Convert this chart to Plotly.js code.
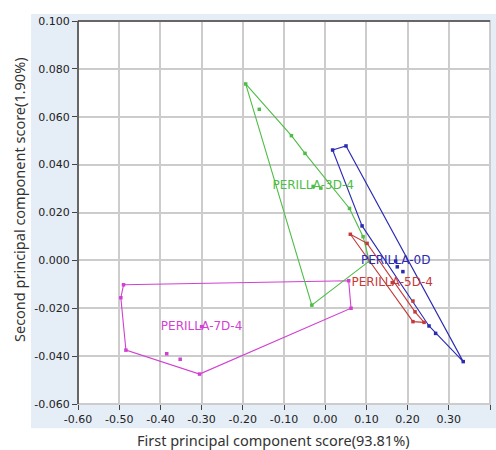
<!DOCTYPE html>
<html>
<head>
<meta charset="utf-8">
<script src="https://cdn.plot.ly/plotly-3.0.1.min.js"></script>
<style>html,body{margin:0;padding:0;background:#fff;}#chart{width:496px;height:450px;}</style>
</head>
<body>
<div id="chart"></div>
<script>
// ---- data ----
const groupNames = ["PERILLA-0D", "PERILLA-3D-4", "PERILLA-5D-4", "PERILLA-7D-4"];
const groupColors = ["#2a2ab4", "#4cbd45", "#c43a3a", "#d23fd2"];

// hull outlines (closed polygons)
const hull0D_x = [0.018, 0.0505, 0.335, 0.268, 0.252, 0.0895, 0.018];
const hull0D_y = [0.0461, 0.0478, -0.0423, -0.0305, -0.0274, 0.0144, 0.0461];
const hull3D_x = [-0.193, -0.082, -0.049, 0.059, 0.092, 0.107, -0.0325, -0.193];
const hull3D_y = [0.0737, 0.0521, 0.0447, 0.0217, 0.0099, -0.0003, -0.0187, 0.0737];
const hull5D_x = [0.061, 0.1017, 0.218, 0.24, 0.213, 0.061];
const hull5D_y = [0.0109, 0.0071, -0.0215, -0.0259, -0.0256, 0.0109];
const hull7D_x = [-0.4895, 0.057, 0.0627, -0.305, -0.4837, -0.496, -0.4895];
const hull7D_y = [-0.0102, -0.0085, -0.0200, -0.0475, -0.0375, -0.0156, -0.0102];

// sample points
const pts0D_x = [0.018, 0.0505, 0.335, 0.268, 0.252, 0.0895, 0.175, 0.1886];
const pts0D_y = [0.0461, 0.0478, -0.0423, -0.0305, -0.0274, 0.0144, -0.0027, -0.0047];
const pts3D_x = [-0.193, -0.160, -0.082, -0.049, -0.0105, 0.059, 0.092, 0.107, -0.0325];
const pts3D_y = [0.0737, 0.0631, 0.0521, 0.0447, 0.0302, 0.0217, 0.0099, -0.0003, -0.0187];
const pts5D_x = [0.061, 0.1017, 0.213, 0.218, 0.24, 0.213];
const pts5D_y = [0.0109, 0.0071, -0.0170, -0.0215, -0.0259, -0.0256];
const pts7D_x = [-0.4895, 0.057, 0.0627, -0.305, -0.4837, -0.496, -0.3846, -0.352];
const pts7D_y = [-0.0102, -0.0085, -0.0200, -0.0475, -0.0375, -0.0156, -0.0390, -0.0413];

// group centroids (labels)
const centroidX = [0.171, -0.0293, 0.1627, -0.300];
const centroidY = [-0.0003, 0.0309, -0.0093, -0.0277];

const xTicks = [-0.60, -0.50, -0.40, -0.30, -0.20, -0.10, 0.00, 0.10, 0.20, 0.30, 0.40];
const yTicks = [-0.060, -0.040, -0.020, 0.000, 0.020, 0.040, 0.060, 0.080, 0.100];
const xTitle = "First principal component score(93.81%)";
const yTitle = "Second principal component score(1.90%)";

// ---- traces ----
const hulls = [[hull0D_x, hull0D_y], [hull3D_x, hull3D_y], [hull5D_x, hull5D_y], [hull7D_x, hull7D_y]];
const pts = [[pts0D_x, pts0D_y], [pts3D_x, pts3D_y], [pts5D_x, pts5D_y], [pts7D_x, pts7D_y]];
const traces = [];
const order = [3, 1, 0, 2];
order.forEach(i => {
  traces.push({x: hulls[i][0], y: hulls[i][1], mode: "lines", type: "scatter",
    line: {color: groupColors[i], width: 1.1}, hoverinfo: "skip", showlegend: false});
  traces.push({x: pts[i][0], y: pts[i][1], mode: "markers", type: "scatter",
    marker: {color: groupColors[i], size: 3.5, symbol: "square"}, showlegend: false});
});
order.forEach(i => {
  traces.push({x: [centroidX[i]], y: [centroidY[i]], mode: "markers+text", type: "scatter",
    text: [groupNames[i]], textposition: "middle center",
    textfont: {family: "DejaVu Sans", size: 12, color: groupColors[i]},
    marker: {color: groupColors[i], size: 3.5, symbol: "square"}, showlegend: false});
});

const tickFont = {family: "DejaVu Sans", size: 11, color: "#222"};
const layout = {
  width: 496, height: 450,
  margin: {l: 78, r: 6, t: 21, b: 46},
  paper_bgcolor: "#ffffff",
  plot_bgcolor: "rgba(0,0,0,0)",
  showlegend: false,
  xaxis: {range: [-0.60, 0.40], tickvals: xTicks, ticktext: xTicks.map(v => v.toFixed(2)),
    showgrid: true, gridcolor: "#cccccc", gridwidth: 2, zeroline: false, showline: false,
    ticks: "outside", ticklen: 5, tickcolor: "#444", tickwidth: 1, tickfont: tickFont, fixedrange: true},
  yaxis: {range: [-0.060, 0.100], tickvals: yTicks, ticktext: yTicks.map(v => v.toFixed(3)),
    showgrid: true, gridcolor: "#cccccc", gridwidth: 2, zeroline: false, showline: false,
    ticks: "outside", ticklen: 5, tickcolor: "#444", tickwidth: 1, tickfont: tickFont, fixedrange: true},
  shapes: [
    {type: "rect", xref: "paper", yref: "paper", x0: -0.114, x1: 1.02, y0: -0.063, y1: 1.018,
      fillcolor: "#e5edf6", line: {width: 0}, layer: "below"},
    {type: "rect", xref: "paper", yref: "paper", x0: 0, x1: 1, y0: 0, y1: 1,
      fillcolor: "#ffffff", line: {width: 0}, layer: "below"},
    {type: "rect", xref: "paper", yref: "paper", x0: 0, x1: 1, y0: 0, y1: 1,
      fillcolor: "rgba(0,0,0,0)", line: {width: 2, color: "#cccccc"}, layer: "below"},
    {type: "line", xref: "paper", yref: "paper", x0: 0, x1: 1, y0: 1, y1: 1,
      line: {width: 1.5, color: "#444"}},
    {type: "line", xref: "paper", yref: "paper", x0: 0, x1: 0, y0: 0, y1: 1,
      line: {width: 1.5, color: "#444"}}
  ],
  annotations: [
    {text: xTitle, xref: "paper", yref: "paper", x: (273.5 - 78) / 412, y: (404 - 440) / 383,
      showarrow: false, xanchor: "center", yanchor: "middle",
      font: {family: "Noto Sans", size: 14.5, color: "#333"}},
    {text: yTitle, xref: "paper", yref: "paper", x: (19 - 78) / 412, y: (404 - 200) / 383,
      showarrow: false, xanchor: "center", yanchor: "middle", textangle: -90,
      font: {family: "Noto Sans", size: 14.5, color: "#333"}}
  ]
};
Plotly.newPlot("chart", traces, layout, {displayModeBar: false, staticPlot: true});
</script>
</body>
</html>
